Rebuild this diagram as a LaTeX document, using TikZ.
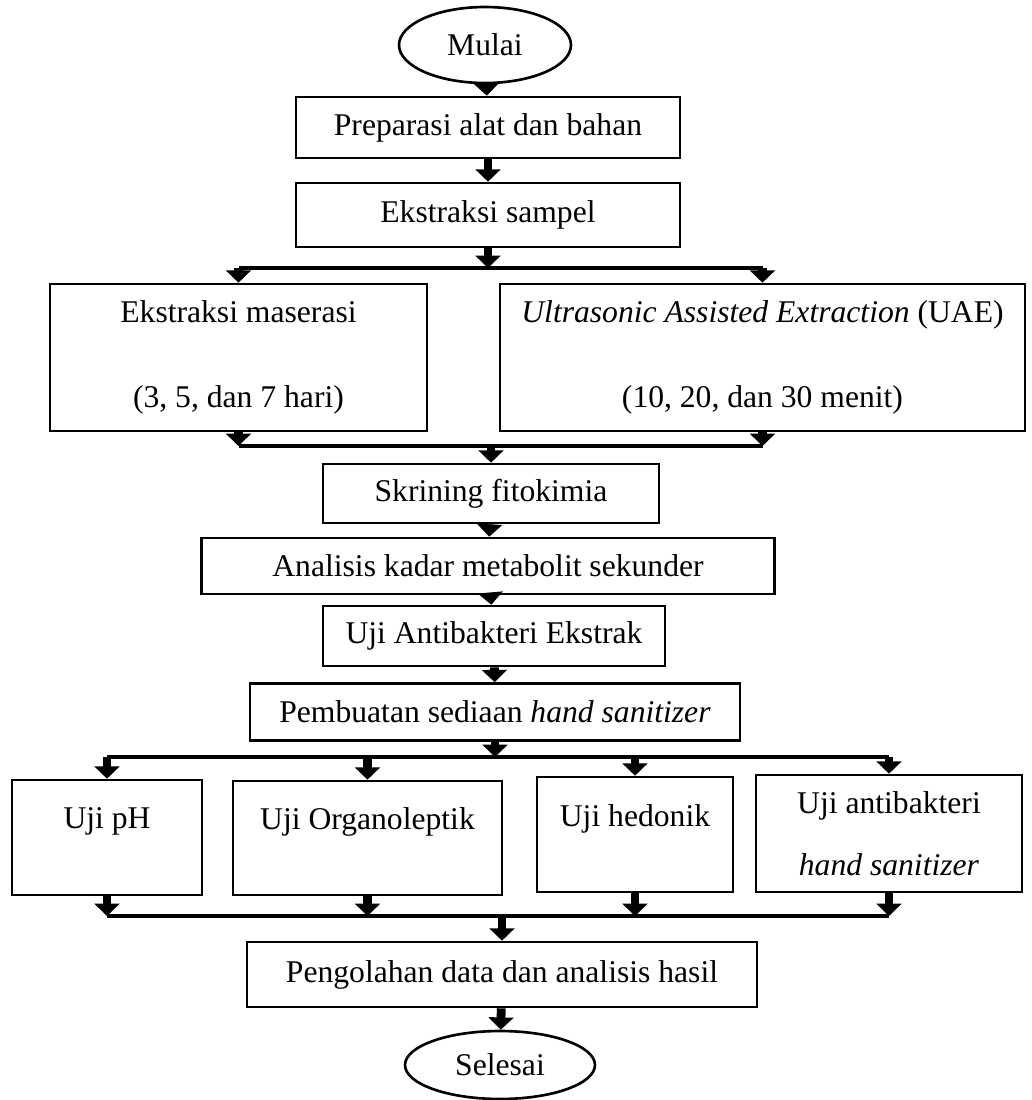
\documentclass[tikz,border=0pt]{standalone}
\usepackage{fontspec}
\setmainfont{Liberation Serif}
\usepackage{tikz}
\usetikzlibrary{shapes.geometric,arrows.meta}
\tikzset{
  box/.style={draw, line width=1.5pt, inner sep=0pt, align=center, font=\fontsize{18}{22}\selectfont},
  term/.style={draw, ellipse, line width=1.5pt, inner sep=0pt, font=\fontsize{18}{22}\selectfont},
  conn/.style={line width=2.2pt},
  arr/.style={line width=5pt, -{Triangle[width=14pt,length=7pt]}},
  uprow/.style={text depth=22pt}
}

\begin{document}
\begin{tikzpicture}[x=0.02cm, y=-0.02cm]
  \useasboundingbox (0,0) rectangle (1032,1100);

  \node[term, minimum width=3.44cm, minimum height=1.52cm] (mulai) at (485,45) {Mulai};
  \node[box, minimum width=7.68cm, minimum height=1.22cm] (prep) at (488,127.5) {Preparasi alat dan bahan};
  \node[box, minimum width=7.68cm, minimum height=1.28cm] (sampel) at (488,215) {Ekstraksi sampel};
  \draw[arr] (mulai) -- (prep);
  \draw[arr] (prep) -- (sampel);

  % cabang ekstraksi
  \node[box, minimum width=7.54cm, minimum height=2.94cm] (maserasi) at (238.5,357.5)
    {Ekstraksi maserasi\\[26pt](3, 5, dan 7 hari)};
  \node[box, minimum width=10.5cm, minimum height=2.94cm] (uae) at (762.5,357.5)
    {\textit{Ultrasonic Assisted Extraction} (UAE)\\[26pt](10, 20, dan 30 menit)};
  \coordinate (s1) at (488,268);
  \coordinate (m1) at (491,446);
  \draw[arr] (sampel) -- (s1);
  \draw[conn] (maserasi.north |- s1) -- (uae.north |- s1);
  \draw[arr] (maserasi.north |- s1) -- (maserasi);
  \draw[arr] (uae.north |- s1) -- (uae);
  \draw[arr] (maserasi) -- (maserasi.south |- m1);
  \draw[arr] (uae) -- (uae.south |- m1);
  \draw[conn] (maserasi.south |- m1) -- (uae.south |- m1);

  \node[box, minimum width=6.72cm, minimum height=1.18cm] (skrining) at (491,493.5) {Skrining fitokimia};
  \node[box, minimum width=11.46cm, minimum height=1.12cm] (analisis) at (488,566) {Analisis kadar metabolit sekunder};
  \node[box, minimum width=6.84cm, minimum height=1.2cm] (ekstrak) at (494,636) {Uji Antibakteri Ekstrak};
  \node[box, minimum width=9.8cm, minimum height=1.14cm] (sediaan) at (495,712) {Pembuatan sediaan \textit{hand sanitizer}};
  \draw[arr] (m1) -- (skrining);
  \draw[arr] (skrining) -- (analisis);
  \draw[arr] (analisis) -- (ekstrak);
  \draw[arr] (ekstrak) -- (sediaan);

  % cabang uji sediaan
  \node[box, uprow, minimum width=3.8cm, minimum height=2.3cm] (ujiph) at (107,837.5) {Uji pH};
  \node[box, uprow, minimum width=5.38cm, minimum height=2.28cm] (organo) at (367.5,838) {Uji Organoleptik};
  \node[box, uprow, minimum width=3.92cm, minimum height=2.3cm] (hedonik) at (635,834.5) {Uji hedonik};
  \node[box, minimum width=5.32cm, minimum height=2.34cm] (antibak) at (889,833.5)
    {Uji antibakteri\\[13pt]\textit{hand sanitizer}};
  \coordinate (s2) at (495,757);
  \coordinate (m2) at (502,916);
  \draw[arr] (sediaan) -- (s2);
  \draw[conn] (ujiph.north |- s2) -- (antibak.north |- s2);
  \foreach \n in {ujiph,organo,hedonik,antibak}{
    \draw[arr] (\n.north |- s2) -- (\n);
    \draw[arr] (\n) -- (\n.south |- m2);
  }
  \draw[conn] (ujiph.south |- m2) -- (antibak.south |- m2);

  \node[box, minimum width=10.2cm, minimum height=1.3cm] (olah) at (502,974.5) {Pengolahan data dan analisis hasil};
  \node[term, minimum width=3.8cm, minimum height=1.36cm] (selesai) at (500,1065) {Selesai};
  \draw[arr] (m2) -- (olah);
  \draw[arr] (olah) -- (selesai);
\end{tikzpicture}
\end{document}
